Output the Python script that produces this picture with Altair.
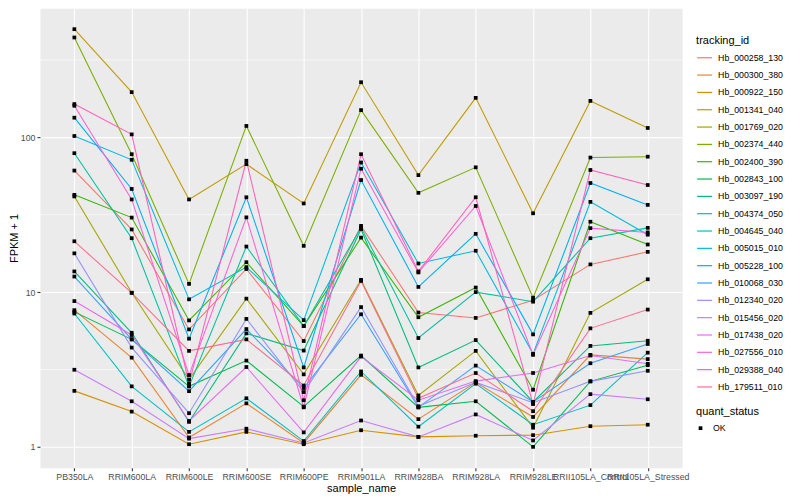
import altair as alt
import pandas as pd

samples = ["PB350LA", "RRIM600LA", "RRIM600LE", "RRIM600SE", "RRIM600PE", "RRIM901LA",
           "RRIM928BA", "RRIM928LA", "RRIM928LE", "RRII105LA_Control", "RRII105LA_Stressed"]

tracking_ids = ["Hb_000258_130", "Hb_000300_380", "Hb_000922_150", "Hb_001341_040", "Hb_001769_020",
                "Hb_002374_440", "Hb_002400_390", "Hb_002843_100", "Hb_003097_190", "Hb_004374_050",
                "Hb_004645_040", "Hb_005015_010", "Hb_005228_100", "Hb_010068_030", "Hb_012340_020",
                "Hb_015456_020", "Hb_017438_020", "Hb_027556_010", "Hb_029388_040", "Hb_179511_010"]

colors = ["#F8766D", "#EA8331", "#D89000", "#C09B00", "#A3A500", "#7CAE00", "#39B600", "#00BB4E",
          "#00BF7D", "#00C1A3", "#00BFC4", "#00BAE0", "#00B0F6", "#35A2FF", "#9590FF", "#C77CFF",
          "#E76BF3", "#FA62DB", "#FF62BC", "#FF6C91"]

# FPKM + 1 per sample (order of `samples`)
hb_000258_130 = [61, 25.4, 5.74, 14.1, 4.83, 26.8, 7.38, 6.81, 8.85, 15.1, 18.2]
hb_000300_380 = [7.64, 3.77, 1.15, 1.91, 1.06, 2.92, 1.51, 2.61, 1.56, 3.93, 3.69]
hb_000922_150 = [2.30, 1.69, 1.04, 1.25, 1.04, 1.28, 1.16, 1.18, 1.19, 1.36, 1.39]
hb_001341_040 = [500, 196, 39.7, 67.1, 37.4, 227, 57, 180, 32.3, 172, 115]
hb_001769_020 = [41.5, 9.9, 2.72, 9.07, 2.94, 12.0, 2.15, 4.17, 1.33, 7.34, 12.1]
hb_002374_440 = [442, 77.8, 11.3, 118.5, 19.9, 150, 43.8, 64, 9.2, 74, 75]
hb_002400_390 = [42.5, 30.3, 6.56, 15.6, 6.03, 22.5, 6.88, 10.7, 2.34, 28.5, 20.3]
hb_002843_100 = [7.45, 4.95, 2.46, 3.61, 1.82, 3.89, 1.80, 1.97, 1.0, 2.65, 3.37]
hb_003097_190 = [13.6, 5.46, 1.45, 5.41, 4.19, 25.5, 3.26, 4.9, 1.95, 4.49, 4.85]
hb_004374_050 = [79, 22.3, 2.46, 19.7, 6.03, 26.1, 5.05, 10.0, 8.67, 22.3, 26]
hb_004645_040 = [7.27, 2.46, 1.25, 2.06, 1.09, 3.07, 1.35, 2.56, 1.39, 1.86, 4.06]
hb_005015_010 = [102, 71.6, 8.98, 14.5, 6.59, 68.8, 15.3, 18.5, 3.99, 38.3, 23.5]
hb_005228_100 = [134, 46.4, 5.0, 41, 3.26, 53, 10.8, 23.8, 5.33, 50.7, 36.6]
hb_010068_030 = [12.6, 4.95, 2.29, 5.77, 2.40, 7.19, 1.80, 3.35, 1.95, 3.47, 4.62]
hb_012340_020 = [17.8, 4.38, 1.65, 6.71, 2.26, 8.0, 1.83, 2.61, 1.93, 2.65, 3.10]
hb_015456_020 = [3.15, 1.97, 1.13, 1.31, 1.06, 1.48, 1.16, 1.62, 1.10, 2.19, 2.03]
hb_017438_020 = [8.75, 5.28, 1.47, 3.28, 1.24, 3.83, 2.0, 2.66, 3.0, 3.89, 3.44]
hb_027556_010 = [160, 39.7, 2.91, 30.4, 1.80, 62.7, 13.4, 36, 3.93, 25.9, 24.3]
hb_029388_040 = [164, 104.5, 2.56, 70.6, 2.0, 77.8, 13.6, 41, 1.89, 61.5, 49.2]
hb_179511_010 = [21.3, 9.9, 4.17, 4.95, 2.49, 11.8, 2.06, 3.0, 1.70, 5.83, 7.71]

series = [hb_000258_130, hb_000300_380, hb_000922_150, hb_001341_040, hb_001769_020,
          hb_002374_440, hb_002400_390, hb_002843_100, hb_003097_190, hb_004374_050,
          hb_004645_040, hb_005015_010, hb_005228_100, hb_010068_030, hb_012340_020,
          hb_015456_020, hb_017438_020, hb_027556_010, hb_029388_040, hb_179511_010]

y_ticks = [1, 10, 100]
minor_breaks = [3.1623, 31.623, 316.23]

rows = []
for tid, vals in zip(tracking_ids, series):
    for s, v in zip(samples, vals):
        rows.append({"tracking_id": tid, "sample_name": s, "value": v, "quant_status": "OK"})
df = pd.DataFrame(rows)
minor_df = pd.DataFrame({"value": minor_breaks})

FONT = "Liberation Sans"

x_enc = alt.X("sample_name:N", sort=samples,
              scale=alt.Scale(domain=samples, padding=0.6),
              axis=alt.Axis(title="sample_name", labelAngle=0, grid=True, labelOverlap=False,
                            labelBound=False, titlePadding=1))
y_enc = alt.Y("value:Q",
              scale=alt.Scale(type="log", domain=[0.733, 682], nice=False),
              axis=alt.Axis(title="FPKM + 1", values=y_ticks, format="d", grid=True, titlePadding=1))

minor = alt.Chart(minor_df).mark_rule(color="white", strokeWidth=0.55).encode(y=y_enc)

lines = alt.Chart(df).mark_line(strokeWidth=1.07).encode(
    x=x_enc, y=y_enc,
    color=alt.Color("tracking_id:N",
                    scale=alt.Scale(domain=tracking_ids, range=colors),
                    legend=alt.Legend(title="tracking_id", orient="none", legendX=657, legendY=27,
                                      direction="vertical", symbolType="stroke", symbolSize=225,
                                      symbolStrokeWidth=1.2, rowPadding=3.35, titlePadding=3,
                                      labelOffset=5, symbolLimit=50, labelFontSize=8.8,
                                      labelColor="black", titleFontSize=11, titleColor="black",
                                      titleFontWeight="normal")),
    detail="tracking_id:N",
)

points = alt.Chart(df).mark_point(shape="square", filled=True, size=14, color="black", opacity=1).encode(
    x=x_enc, y=y_enc,
    shape=alt.Shape("quant_status:N", scale=alt.Scale(domain=["OK"], range=["square"]),
                    legend=alt.Legend(title="quant_status", orient="none", legendX=657, legendY=398,
                                      symbolFillColor="black", symbolStrokeColor="black",
                                      symbolSize=14, titlePadding=7, labelOffset=8,
                                      labelFontSize=8.8, labelColor="black", titleFontSize=11,
                                      titleColor="black", titleFontWeight="normal")),
)

chart = alt.layer(minor, lines, points).properties(
    width=643, height=460,
    autosize=alt.AutoSizeParams(type="none"),
    padding={"left": 32, "top": 0, "right": 110, "bottom": 32},
    background="white",
).configure(font=FONT).configure_view(
    fill="#EBEBEB", stroke="transparent"
).configure_axis(
    domain=False, gridColor="white", gridWidth=1.07, tickColor="#333333", tickSize=3,
    tickWidth=1.07, labelColor="#4D4D4D", labelFontSize=8.8, titleFontSize=11,
    titleColor="black", titleFontWeight="normal", labelPadding=2, labelFont=FONT, titleFont=FONT
).configure_legend(labelFont=FONT, titleFont=FONT)

chart.save("out.html", embed_options={"renderer": "svg", "actions": False})
